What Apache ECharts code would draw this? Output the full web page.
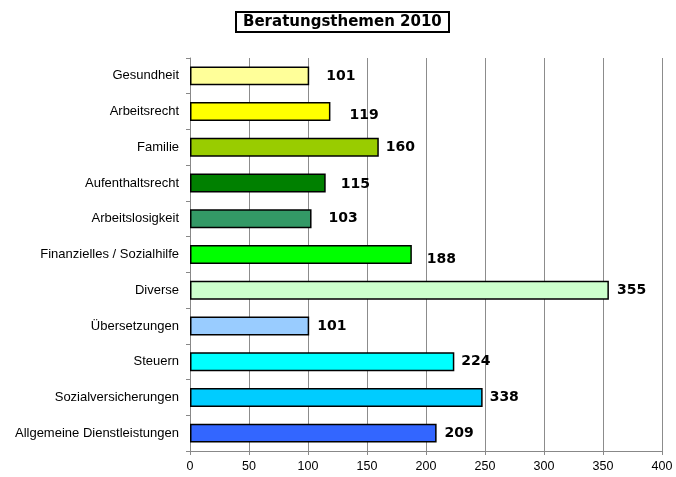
<!DOCTYPE html>
<html>
<head>
<meta charset="utf-8">
<script src="https://cdn.jsdelivr.net/npm/echarts@6/dist/echarts.min.js"></script>
<style>
  html, body { margin: 0; padding: 0; background: #fff; }
  #chart { width: 676px; height: 477px; }
</style>
</head>
<body>
<div id="chart"></div>
<script>
// Categories, top to bottom
const topics = [
  'Gesundheit', 'Arbeitsrecht', 'Familie', 'Aufenthaltsrecht', 'Arbeitslosigkeit',
  'Finanzielles / Sozialhilfe', 'Diverse', 'Übersetzungen', 'Steuern',
  'Sozialversicherungen', 'Allgemeine Dienstleistungen'
];
// Bar lengths as drawn in the picture
const barValues = [101, 119, 160, 115, 103, 188, 355, 101, 224, 248, 209];
// Printed value labels
const labelTexts = ['101', '119', '160', '115', '103', '188', '355', '101', '224', '338', '209'];
const xTicks = [0, 50, 100, 150, 200, 250, 300, 350, 400];

const barColors = ['#FFFF99', '#FFFF00', '#99CC00', '#008000', '#339966', '#00FF00',
                   '#CCFFCC', '#99CCFF', '#00FFFF', '#00CCFF', '#3366FF'];
// label placement tweaks [dx, dy]
const labelShift = [[10, 0], [12, 4], [0, 0], [8, 1], [10, 0], [8, 5], [1, 0], [1, 0], [0, 0], [0, 0], [1, 0]];

const chart = echarts.init(document.getElementById('chart'));

chart.setOption({
  animation: false,
  backgroundColor: '#fff',
  title: {
    text: 'Beratungsthemen 2010',
    left: 236,
    top: 12,
    padding: [3, 7, 2, 7],
    borderColor: '#000',
    borderWidth: 2,
    textStyle: { fontFamily: 'DejaVu Sans', fontWeight: 'bold', fontSize: 15, color: '#000' }
  },
  grid: { left: 190, right: 14, top: 58, bottom: 26, containLabel: false },
  xAxis: {
    type: 'value',
    min: 0,
    max: 400,
    interval: 50,
    axisLine: { show: true, lineStyle: { color: '#888', width: 1 } },
    axisTick: { show: true, length: 4, lineStyle: { color: '#888' } },
    axisLabel: {
      color: '#000', fontFamily: 'Liberation Sans', fontSize: 12.5, margin: 9,
      formatter: v => xTicks.includes(v) ? String(v) : ''
    },
    splitLine: { show: true, lineStyle: { color: '#8c8c8c', width: 1 } }
  },
  yAxis: {
    type: 'category',
    data: topics,
    inverse: true,
    axisLine: { show: true, lineStyle: { color: '#888', width: 1 } },
    axisTick: { show: true, length: 4, lineStyle: { color: '#888' } },
    axisLabel: { color: '#000', fontFamily: 'Liberation Sans', fontSize: 13, margin: 11 }
  },
  series: [{
    type: 'bar',
    barWidth: '53%',
    data: barValues.map((v, i) => ({
      value: v,
      itemStyle: { color: barColors[i], borderColor: '#000', borderWidth: 1.5 },
      label: {
        show: true,
        position: 'right',
        distance: 7,
        offset: labelShift[i],
        formatter: () => labelTexts[i],
        fontFamily: 'DejaVu Sans',
        fontWeight: 'bold',
        fontSize: 14,
        color: '#000'
      }
    }))
  }]
});
</script>
</body>
</html>
